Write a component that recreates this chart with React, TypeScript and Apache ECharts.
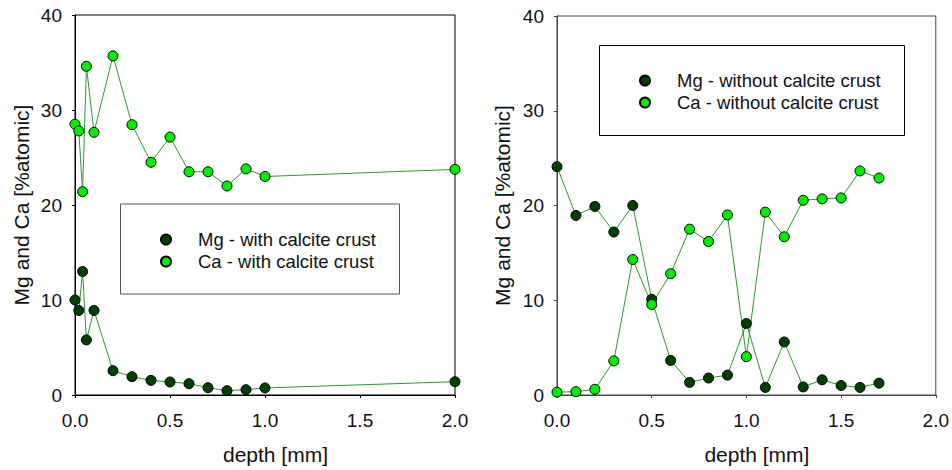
import React, { useEffect, useRef } from "react";
import * as echarts from "echarts";

// Left panel: with calcite crust
const depthWith = [0, 0.02, 0.04, 0.06, 0.1, 0.2, 0.3, 0.4, 0.5, 0.6, 0.7, 0.8, 0.9, 1.0, 2.0];
const mgWith = [10.0, 8.9, 13.0, 5.8, 8.9, 2.56, 1.93, 1.54, 1.37, 1.19, 0.77, 0.46, 0.56, 0.74, 1.4];
const caWith = [28.5, 27.8, 21.4, 34.6, 27.65, 35.7, 28.45, 24.5, 27.15, 23.5, 23.5, 22.0, 23.8, 23.0, 23.75];

// Right panel: without calcite crust
const depthWithout = [0, 0.1, 0.2, 0.3, 0.4, 0.5, 0.6, 0.7, 0.8, 0.9, 1.0, 1.1, 1.2, 1.3, 1.4, 1.5, 1.6, 1.7];
const mgWithout = [24.1, 18.95, 19.9, 17.2, 20.0, 10.1, 3.65, 1.33, 1.79, 2.1, 7.55, 0.8, 5.6, 0.85, 1.6, 1.0, 0.8, 1.25];
const caWithout = [0.3, 0.35, 0.6, 3.6, 14.3, 9.55, 12.8, 17.5, 16.2, 19.0, 4.05, 19.3, 16.7, 20.55, 20.7, 20.8, 23.65, 22.9];

const yTicks = [0, 10, 20, 30, 40];
const xTicks = [0, 0.5, 1.0, 1.5, 2.0];

const names = {
  mgWith: "Mg - with calcite crust",
  caWith: "Ca - with calcite crust",
  mgWithout: "Mg - without calcite crust",
  caWithout: "Ca - without calcite crust",
};

const FONT = "'Liberation Sans', Arial, Helvetica, sans-serif";
const MG_COLOR = "#003f00";
const CA_COLOR = "#00ec00";
const LINE_COLOR = "#2a982a";

export default function App() {
  const ref = useRef<HTMLDivElement>(null);

  useEffect(() => {
    if (!ref.current) return;
    const chart = echarts.init(ref.current, undefined, { renderer: "svg" });

    const xAxisBase = (gridIndex: number) => ({
      type: "value" as const,
      gridIndex,
      min: xTicks[0],
      max: xTicks[xTicks.length - 1],
      interval: 0.5,
      name: "depth [mm]",
      nameLocation: "middle" as const,
      nameGap: 49,
      nameTextStyle: { fontFamily: FONT, fontSize: 21, color: "#111", padding: [0, 0, 0, 21] },
      axisLine: { show: true, lineStyle: { color: gridIndex === 0 ? "#000" : "#444", width: 1 } },
      axisTick: { show: true, inside: false, length: 3, lineStyle: { color: gridIndex === 0 ? "#000" : "#444" } },
      axisLabel: {
        fontFamily: FONT,
        fontSize: 19,
        color: "#111",
        margin: 16,
        formatter: (v: number) => v.toFixed(1),
      },
      splitLine: { show: false },
    });

    const yAxisBase = (gridIndex: number) => ({
      type: "value" as const,
      gridIndex,
      min: yTicks[0],
      max: yTicks[yTicks.length - 1],
      interval: 10,
      name: "Mg and Ca [%atomic]",
      nameLocation: "middle" as const,
      nameGap: gridIndex === 0 ? 43 : 44,
      nameTextStyle: { fontFamily: FONT, fontSize: 21, color: "#111" },
      axisLine: { show: true, lineStyle: { color: gridIndex === 0 ? "#000" : "#444", width: 1 } },
      axisTick: { show: true, inside: false, length: 3, lineStyle: { color: gridIndex === 0 ? "#000" : "#444" } },
      axisLabel: { fontFamily: FONT, fontSize: 19, color: "#111", margin: 13 },
      splitLine: { show: false },
    });

    const seriesBase = (
      name: string,
      xs: number[],
      ys: number[],
      color: string,
      idx: number
    ) => ({
      type: "line" as const,
      name,
      xAxisIndex: idx,
      yAxisIndex: idx,
      data: xs.map((x, i) => [x, ys[i]]),
      symbol: "circle",
      symbolSize: 10,
      showAllSymbol: true,
      itemStyle: { color, borderColor: "#000", borderWidth: 1 },
      lineStyle: { color: LINE_COLOR, width: 1 },
      emphasis: { disabled: true },
    });

    const legendBase = (data: string[], left: number, top: number, pad: number) => ({
      orient: "vertical" as const,
      left,
      top,
      data,
      icon: "circle",
      itemWidth: 10,
      itemHeight: 10,
      itemGap: 3,
      selectedMode: false,
      padding: 0,
      textStyle: {
        fontFamily: FONT,
        fontSize: 18.5,
        color: "#111",
        lineHeight: 18,
        padding: [0, 0, 0, pad],
      },
    });

    chart.setOption({
      animation: false,
      backgroundColor: "#fff",
      grid: [
        { left: 75, top: 15, width: 380, height: 380, show: true, borderColor: "#000", borderWidth: 1, backgroundColor: "transparent" },
        { left: 557, top: 16, width: 380, height: 380, show: true, borderColor: "#444", borderWidth: 1, backgroundColor: "transparent" },
      ],
      xAxis: [xAxisBase(0), xAxisBase(1)],
      yAxis: [yAxisBase(0), yAxisBase(1)],
      legend: [
        legendBase([names.mgWith, names.caWith], 160, 230, 22),
        legendBase([names.mgWithout, names.caWithout], 639, 71, 22),
      ],
      graphic: [
        { type: "rect", shape: { x: 120.5, y: 204, width: 279, height: 90 }, style: { fill: "none", stroke: "#555", lineWidth: 1 }, z: 0 },
        { type: "rect", shape: { x: 599.5, y: 45.5, width: 305, height: 90 }, style: { fill: "none", stroke: "#000", lineWidth: 1 }, z: 0 },
      ],
      series: [
        seriesBase(names.mgWith, depthWith, mgWith, MG_COLOR, 0),
        seriesBase(names.caWith, depthWith, caWith, CA_COLOR, 0),
        seriesBase(names.mgWithout, depthWithout, mgWithout, MG_COLOR, 1),
        seriesBase(names.caWithout, depthWithout, caWithout, CA_COLOR, 1),
      ],
    });

    return () => chart.dispose();
  }, []);

  return (
    <div
      ref={ref}
      style={{ position: "fixed", left: 0, top: 0, width: 952, height: 470, background: "#fff" }}
    />
  );
}
